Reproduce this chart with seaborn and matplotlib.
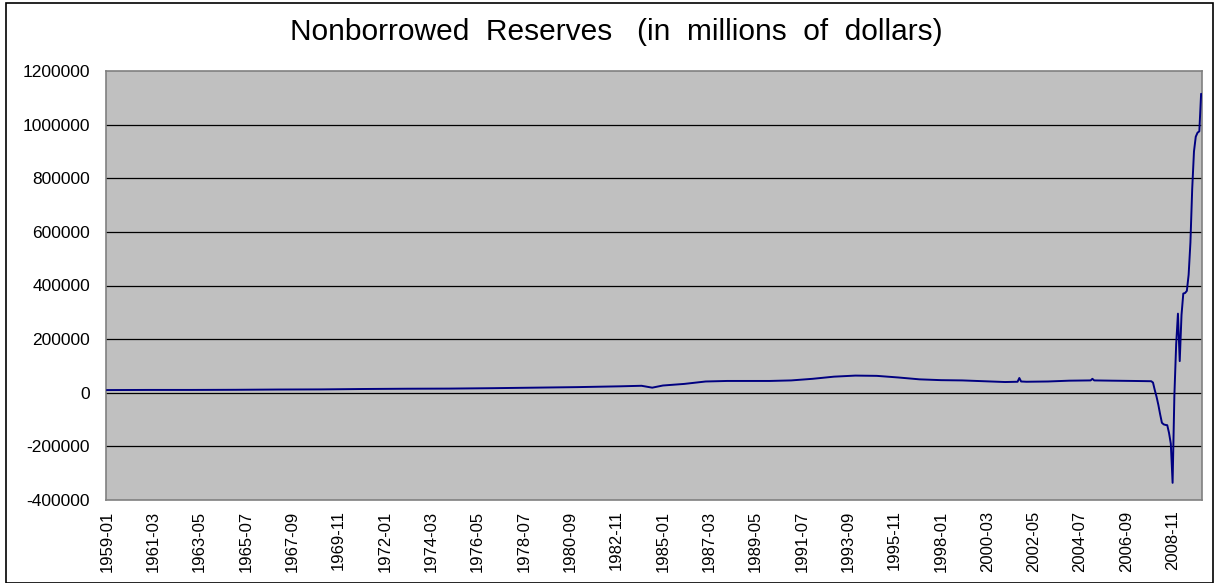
import matplotlib
matplotlib.use("Agg")
import matplotlib.pyplot as plt
from matplotlib.patches import Rectangle
from matplotlib.ticker import FixedLocator, NullLocator
import numpy as np
import pandas as pd
import seaborn as sns

# Nonborrowed reserves, monthly observations (millions of dollars)
months = [
    "1959-01", "1961-01", "1963-01", "1965-01", "1967-01", "1969-01",
    "1971-01", "1973-01", "1975-01", "1977-01", "1979-01", "1981-01",
    "1983-01", "1984-01", "1984-07", "1985-01", "1986-01", "1987-01",
    "1988-01", "1989-01", "1990-01", "1991-01", "1992-01", "1993-01",
    "1994-01", "1995-01", "1996-01", "1997-01", "1998-01", "1999-01",
    "2000-01", "2001-01", "2001-08", "2001-09", "2001-10", "2002-01",
    "2003-01", "2004-01", "2005-01", "2005-02", "2005-03", "2006-01",
    "2007-01", "2007-11", "2007-12", "2008-01", "2008-02", "2008-03",
    "2008-04", "2008-05", "2008-06", "2008-07", "2008-08", "2008-09",
    "2008-10", "2008-11", "2008-12", "2009-01", "2009-02", "2009-03",
    "2009-04", "2009-05", "2009-06", "2009-07", "2009-08", "2009-09",
    "2009-10", "2009-11", "2009-12", "2010-01", "2010-02", "2010-03",
]
nbr = [
    10000, 10500, 10500, 11000, 12000, 12500,
    14000, 15000, 15500, 17000, 19000, 21000,
    24000, 26000, 19000, 27000, 33000, 42000,
    44000, 44000, 44000, 46000, 52000, 60000,
    64000, 63000, 57000, 50000, 47000, 46000,
    43000, 40000, 41000, 55000, 42000, 41000,
    42000, 45000, 46000, 52000, 46000, 45000,
    44000, 43000, 38000, 10000, -15000, -45000,
    -80000, -112000, -118000, -120000, -121000, -150000,
    -190000, -336000, -10000, 180000, 295000, 118000,
    290000, 370000, 372000, 380000, 440000, 560000,
    760000, 900000, 955000, 970000, 975000, 1115000,
]

tick_labels = [
    "1959-01", "1961-03", "1963-05", "1965-07", "1967-09", "1969-11",
    "1972-01", "1974-03", "1976-05", "1978-07", "1980-09", "1982-11",
    "1985-01", "1987-03", "1989-05", "1991-07", "1993-09", "1995-11",
    "1998-01", "2000-03", "2002-05", "2004-07", "2006-09", "2008-11",
]
y_ticks = [-400000, -200000, 0, 200000, 400000, 600000, 800000, 1000000, 1200000]

start, end = "1959-01", "2010-03"


def month_index(label):
    y, m = label.split("-")
    y0, m0 = start.split("-")
    return (int(y) - int(y0)) * 12 + (int(m) - int(m0))


n_months = month_index(end) + 1
df = pd.DataFrame({"idx": [month_index(m) for m in months], "nbr": nbr})

sns.set_theme(style="white")
plt.rcParams["font.family"] = ["Liberation Sans", "DejaVu Sans"]

W, H = 1220, 583
fig = plt.figure(figsize=(W / 100, H / 100), dpi=100, facecolor="white")
ax = fig.add_axes([106 / W, 1 - 500 / H, (1202 - 106) / W, (500 - 71) / H])
ax.set_facecolor("#C0C0C0")

for yv in y_ticks[1:-1]:
    ax.axhline(yv, color="#000000", linewidth=0.9, zorder=1)

sns.lineplot(data=df, x="idx", y="nbr", color="#000080", linewidth=1.4,
             ax=ax, zorder=3)

ax.set_xlim(-0.5, n_months - 0.5)
ax.set_ylim(-400000, 1200000)
ax.yaxis.set_major_locator(FixedLocator(y_ticks))
ax.set_yticklabels([str(v) for v in y_ticks], fontsize=12.5, color="black")
ax.xaxis.set_major_locator(FixedLocator([month_index(t) for t in tick_labels]))
ax.set_xticklabels(tick_labels, rotation=90, fontsize=12, color="black")
ax.xaxis.set_minor_locator(NullLocator())
ax.tick_params(axis="y", length=0, pad=11.5)
ax.tick_params(axis="x", length=0, pad=7.5)
ax.set_xlabel("")
ax.set_ylabel("")
for side in ax.spines.values():
    side.set_visible(True)
    side.set_color("#808080")
    side.set_linewidth(1.2)

fig.text(616 / W, 1 - 32 / H,
         "Nonborrowed  Reserves   (in  millions  of  dollars)",
         ha="center", va="center", fontsize=21.5, color="black")

fig.patches.append(Rectangle((6 / W, 0), (1213 - 6) / W, 1 - 2.5 / H,
                             transform=fig.transFigure, fill=False,
                             edgecolor="black", linewidth=1.2))

fig.savefig("out.png", dpi=100, facecolor="white")
